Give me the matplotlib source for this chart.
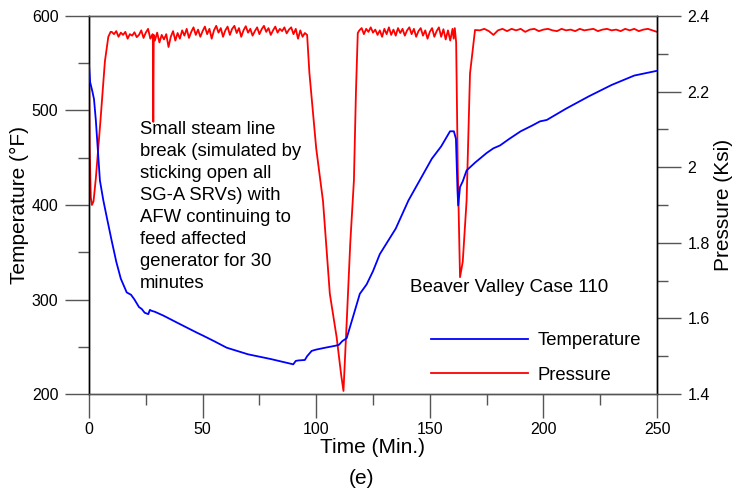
import matplotlib
matplotlib.use("Agg")
import matplotlib.pyplot as plt
from matplotlib.ticker import MultipleLocator, FixedLocator
from matplotlib.lines import Line2D

plt.rcParams['font.family'] = ['Liberation Sans', 'DejaVu Sans']

# ---------------- data ----------------
temp_time = [0, 0.5, 1.5, 2.2, 3, 4.8, 6.3, 8, 10, 12, 14, 16.6, 18.5, 20, 22,
             23.2, 24.5, 26.1, 26.8, 27.6, 29, 32.7, 40, 47.4, 50, 55, 60.6, 70,
             80, 89.9, 91, 92.1, 95, 96, 98, 100, 104, 108.3, 110, 111.5, 113.4,
             116, 119.2, 122.2, 125, 128, 135, 140.6, 150.9, 155, 158.9, 160.6,
             161.5, 162.2, 162.5, 163.3, 164.5, 166.2, 170, 175, 178, 180.9, 185,
             190, 195, 198.5, 201.5, 210, 220, 230, 240, 250]
temp_vals = [548, 530, 520, 512, 490, 426, 405, 385, 362, 340, 322, 307.5, 305,
             300, 292, 290, 286, 284.5, 289, 288, 287, 283, 274, 265, 262, 256,
             249, 242, 237, 231.4, 235, 235.5, 236, 240, 245.6, 247, 249, 251, 252,
             256, 259, 280, 306, 316, 330, 348, 375, 404.8, 449, 462, 478, 478,
             470, 415, 399.5, 419, 425, 436.6, 445, 455, 460, 463, 470, 478, 484,
             488.5, 490, 502, 515, 527, 537, 542]

pres_time = [0, 0.3, 0.8, 1.3, 2, 3, 5, 7, 8.5, 9.5,
             10, 11, 12, 13, 14, 15, 16, 17, 18, 19, 20, 21, 22, 23, 24, 25, 26, 27,
             28, 28.1, 28.3, 28.5, 29, 30, 31, 32, 33, 34, 35, 36, 37, 38, 39, 40,
             41, 42, 43, 44, 45, 46, 47, 48, 49, 50, 51, 52, 53, 54, 55, 56, 57, 58,
             59, 60, 61, 62, 63, 64, 65, 66, 67, 68, 69, 70, 71, 72, 73, 74, 75, 76,
             77, 78, 79, 80, 81, 82, 83, 84, 85, 86, 87, 88, 89, 90, 91, 92, 93, 94,
             95, 96,
             97, 100, 103, 106, 109, 111, 112, 113.5, 115, 116.6, 117.5, 118.3,
             119, 120, 121, 122, 123, 124, 125, 126, 127, 128, 129, 130, 131, 132,
             133, 134, 135, 136, 137, 138, 139, 140, 141, 142, 143, 144, 145, 146,
             147, 148, 149, 150, 151, 152, 153, 154, 155, 156, 157, 158, 159, 160,
             160.5, 161, 161.6,
             162.3, 163.3, 164.5, 166.2, 167.7, 169.9,
             172, 174, 176, 178, 180, 182, 184, 186, 188, 190, 192, 194, 196, 198,
             200, 202, 204, 206, 208, 210, 212, 214, 216, 218, 220, 222, 224, 226,
             228, 230, 232, 234, 236, 238, 240, 242, 244, 246, 248, 250]
pres_vals = [2.30, 2.05, 1.92, 1.90, 1.91, 1.97, 2.12, 2.28, 2.345, 2.358,
             2.358, 2.352, 2.360, 2.345, 2.356, 2.350, 2.358, 2.340, 2.352, 2.348,
             2.357, 2.344, 2.350, 2.362, 2.342, 2.356, 2.366, 2.340,
             2.352, 2.350, 2.12, 2.350, 2.335, 2.356, 2.330, 2.350, 2.338, 2.352,
             2.318, 2.345, 2.360, 2.335, 2.355, 2.340,
             2.362, 2.348, 2.366, 2.342, 2.358, 2.370, 2.350, 2.364, 2.345, 2.360,
             2.372, 2.352, 2.366, 2.340, 2.362, 2.374, 2.356, 2.368,
             2.345, 2.362, 2.372, 2.350, 2.366, 2.374, 2.355, 2.368, 2.345, 2.362,
             2.373, 2.356, 2.366, 2.348, 2.360, 2.370, 2.352, 2.365,
             2.374, 2.358, 2.368, 2.350, 2.362, 2.372, 2.356, 2.366, 2.360, 2.370,
             2.354, 2.364, 2.370, 2.352, 2.366, 2.340, 2.362, 2.345,
             2.355, 2.350,
             2.25, 2.05, 1.91, 1.665, 1.55, 1.45, 1.408, 1.60, 1.80, 1.965, 2.20, 2.355,
             2.362, 2.368, 2.352, 2.366, 2.358, 2.370, 2.356, 2.364, 2.350, 2.362,
             2.345, 2.366, 2.352, 2.370,
             2.350, 2.364, 2.348, 2.368, 2.355, 2.366, 2.348, 2.362, 2.370, 2.352,
             2.366, 2.345, 2.360, 2.368,
             2.348, 2.362, 2.340, 2.358, 2.368, 2.345, 2.360, 2.370, 2.345, 2.365,
             2.338, 2.362, 2.335, 2.366,
             2.340, 2.368, 2.330,
             2.0, 1.709, 1.75, 1.912, 2.248, 2.363,
             2.362, 2.366, 2.360, 2.350, 2.362, 2.366, 2.360, 2.366, 2.362, 2.366,
             2.358, 2.364, 2.366, 2.360,
             2.364, 2.366, 2.362, 2.360, 2.366, 2.362, 2.364, 2.360, 2.366, 2.362,
             2.364, 2.366, 2.360, 2.364,
             2.366, 2.362, 2.364, 2.360, 2.366, 2.362, 2.366, 2.360, 2.364, 2.366,
             2.362, 2.358]

x_ticks = [0, 50, 100, 150, 200, 250]
t_ticks = [200, 300, 400, 500, 600]
p_ticks = [1.4, 1.6, 1.8, 2.0, 2.2, 2.4]
p_labels = ["1.4", "1.6", "1.8", "2", "2.2", "2.4"]

annotation = ("Small steam line\nbreak (simulated by\nsticking open all\n"
              "SG-A SRVs) with\nAFW continuing to\nfeed affected\n"
              "generator for 30\nminutes")
case_label = "Beaver Valley Case 110"

# ---------------- figure ----------------
fig = plt.figure(figsize=(7.35, 4.91), dpi=100)
ax = fig.add_axes([89/735, 1 - 394/491, (657 - 89)/735, (394 - 16)/491])
ax2 = ax.twinx()

ax.plot(temp_time, temp_vals, color='#0000ff', lw=1.3, zorder=3)
ax2.plot(pres_time, pres_vals, color='#ff0000', lw=1.3)
ax.set_zorder(ax2.get_zorder() + 1)
ax.patch.set_visible(False)

ax.set_xlim(0, 250)
ax.set_ylim(200, 600)
ax2.set_ylim(1.4, 2.4)

tick_color = '#555555'
ax.xaxis.set_major_locator(FixedLocator(x_ticks))
ax.xaxis.set_minor_locator(MultipleLocator(25))
ax.yaxis.set_major_locator(FixedLocator(t_ticks))
ax.yaxis.set_minor_locator(MultipleLocator(50))
ax2.yaxis.set_major_locator(FixedLocator(p_ticks))
ax2.set_yticklabels(p_labels)
ax2.yaxis.set_minor_locator(MultipleLocator(0.1))

for a in (ax, ax2):
    a.tick_params(which='major', direction='out', length=17, width=1.0,
                  color=tick_color, labelsize=11.5, pad=5)
    a.tick_params(which='minor', direction='out', length=8, width=1.0,
                  color=tick_color)
    for s in a.spines.values():
        s.set_linewidth(1.0)
    a.spines['top'].set_color(tick_color)
    a.spines['bottom'].set_color(tick_color)
ax.tick_params(axis='x', pad=3)
ax.spines['left'].set_color('black')
ax2.spines['right'].set_color('black')

ax.set_xlabel("Time (Min.)", fontsize=15, labelpad=1)
ax.set_ylabel("Temperature (\u00b0F)", fontsize=15, labelpad=2)
ax2.set_ylabel("Pressure (Ksi)", fontsize=15, labelpad=3)

ax.text(140/735, 1 - 121/491, annotation, transform=fig.transFigure,
        fontsize=13.3, va='top', ha='left', linespacing=1.38)
ax.text(410/735, 1 - 288/491, case_label, transform=fig.transFigure,
        fontsize=13.5, va='center', ha='left')
fig.text(362/735, 1 - 478/491, "(e)", fontsize=15, ha='center', va='center')

handles = [Line2D([], [], color='#0000ff', lw=1.3),
           Line2D([], [], color='#ff0000', lw=1.3)]
ax.legend(handles, ["Temperature", "Pressure"], loc='lower right',
          bbox_to_anchor=(0.99, 0.0), borderaxespad=0.15, frameon=False,
          fontsize=13.3, handlelength=5.25, handletextpad=0.55,
          labelspacing=0.95)

fig.savefig("out.png", dpi=100)
